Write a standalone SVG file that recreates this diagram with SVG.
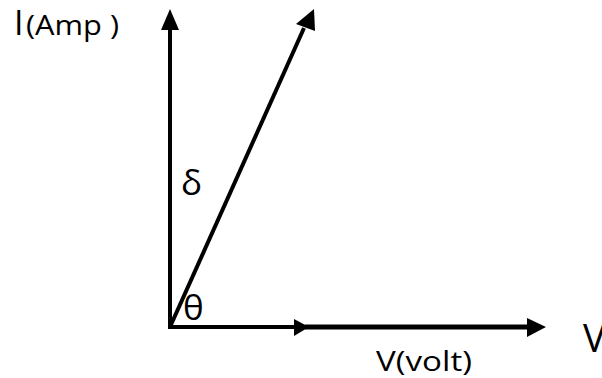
<svg xmlns="http://www.w3.org/2000/svg" width="602" height="378" viewBox="0 0 602 378">
<style>
.ax{stroke:#000;stroke-width:4;fill:none;stroke-linecap:butt}
.hd{fill:#000}
.t{font-family:"Open Sans","Liberation Sans",sans-serif;fill:#000}
</style>
<rect width="602" height="378" fill="#fff"/>
<g id="connectors">
<line class="ax" x1="170" y1="328" x2="170" y2="26"/>
<polygon class="hd" points="170,9 161,30 179,30"/>
<line class="ax" x1="168" y1="327" x2="298" y2="327"/>
<polygon class="hd" points="309,327 294,319 294,336"/>
<line class="ax" x1="305" y1="327" x2="530" y2="327" style="stroke-width:5"/>
<polygon class="hd" points="546,327 527,318 527,337"/>
<line class="ax" x1="170" y1="327" x2="304" y2="28"/>
<polygon class="hd" points="314,9 296,24 315,31"/>
</g>
<g id="labels">
<text class="t" x="14" y="35" font-size="34">I</text>
<text class="t" x="26" y="35" font-size="27" textLength="93" lengthAdjust="spacingAndGlyphs">(Amp )</text>
<text class="t" x="376" y="371" font-size="27" textLength="96" lengthAdjust="spacingAndGlyphs">V(volt)</text>
<text class="t" x="583" y="352" font-size="38">V</text>
<text class="t" x="181" y="195" font-size="35">δ</text>
<text class="t" x="183" y="320" font-size="35">θ</text>
</g>
</svg>
